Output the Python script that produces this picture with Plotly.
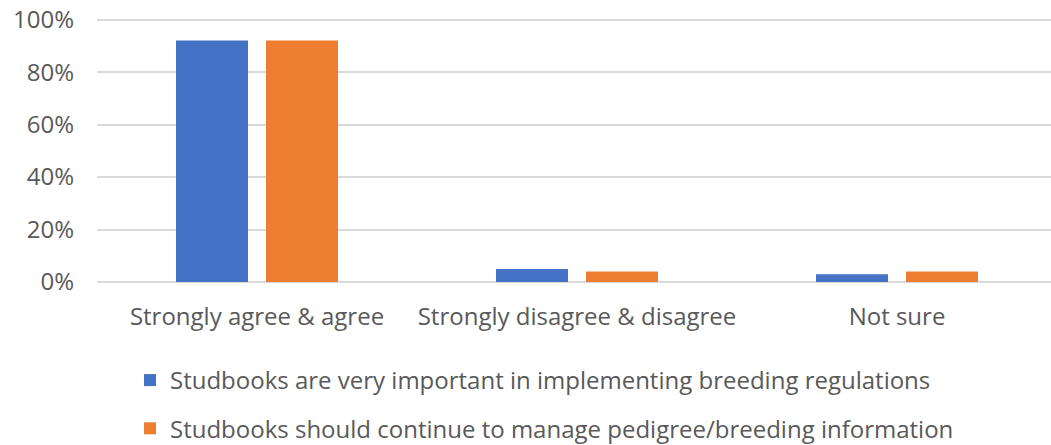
import plotly.graph_objects as go

categories = ["Strongly agree & agree", "Strongly disagree & disagree", "Not sure"]
series1_name = "Studbooks are very important in implementing breeding regulations"
series1_values = [0.92, 0.05, 0.03]
series2_name = "Studbooks should continue to manage pedigree/breeding information"
series2_values = [0.92, 0.04, 0.04]
y_ticks = [0, 0.2, 0.4, 0.6, 0.8, 1.0]
y_tick_labels = ["0%", "20%", "40%", "60%", "80%", "100%"]

FONT = "Open Sans"
FS = 24
GREY = "#595959"

fig = go.Figure()
fig.add_trace(go.Bar(x=categories, y=series1_values, name=series1_name,
                     marker=dict(color="#4472C4", line=dict(width=0)),
                     legendgroup="a"))
fig.add_trace(go.Bar(x=categories, y=series2_values, name=series2_name,
                     marker=dict(color="#ED7D31", line=dict(width=0)),
                     legendgroup="b"))

fig.update_layout(
    width=1051, height=445,
    margin=dict(l=97, r=0, t=17, b=163),
    paper_bgcolor="white", plot_bgcolor="white",
    barmode="group", bargap=0.4375, bargroupgap=0.2,
    font=dict(family=FONT, size=FS, color=GREY),
    showlegend=True,
    legend=dict(orientation="v", x=(130 - 97) / 954, xanchor="left",
                yref="container", y=1 - 358 / 445, yanchor="top",
                font=dict(family=FONT, size=FS, color=GREY),
                tracegroupgap=14, itemwidth=30, bgcolor="rgba(0,0,0,0)"),
    xaxis=dict(range=[-0.5, -0.5 + 954 / 320], showgrid=False, zeroline=False,
               showline=False, ticks="", tickfont=dict(family=FONT, size=FS, color=GREY),
               ticklabelstandoff=18),
    yaxis=dict(range=[0, 1.01], tickvals=y_ticks, ticktext=y_tick_labels,
               showgrid=True, gridcolor="#D9D9D9", gridwidth=1.5,
               zeroline=True, zerolinecolor="#D9D9D9", zerolinewidth=1.5,
               showline=False, ticks="", ticklabelstandoff=22,
               ticklabeloverflow="allow",
               tickfont=dict(family=FONT, size=FS, color=GREY)),
)

fig.write_html("out.html", config={"displayModeBar": False},
               post_script="document.body.style.margin='0px';")
